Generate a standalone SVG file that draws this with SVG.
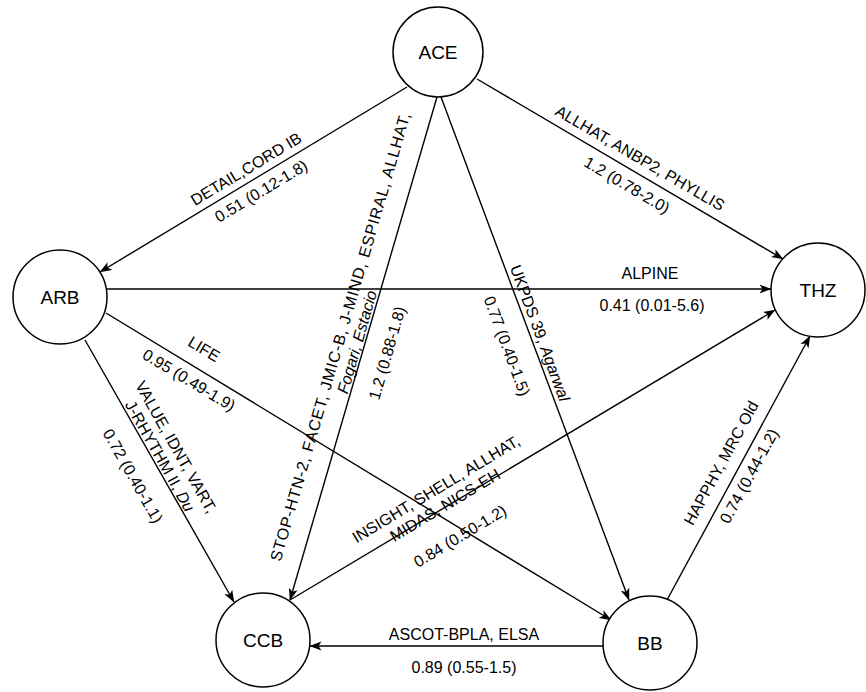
<svg xmlns="http://www.w3.org/2000/svg" width="866" height="692" viewBox="0 0 866 692">
<defs>
<marker id="arr" viewBox="0 0 12 10" refX="11.5" refY="5" markerWidth="12" markerHeight="10" markerUnits="userSpaceOnUse" orient="auto">
<path d="M0,0.5 L12,5 L0,9.5 L3,5 Z" fill="#000"/>
</marker>
<style>
.node circle{fill:#fff;stroke:#000;stroke-width:1.5}
.node text{font-family:"Liberation Sans",Arial,sans-serif;font-size:19px;text-anchor:middle;fill:#000}
.edges path{fill:none;stroke:#000;stroke-width:1.4;marker-end:url(#arr)}
.lbl text{font-family:"Liberation Sans",Arial,sans-serif;font-size:16px;text-anchor:middle;fill:#000}
.it{font-style:italic}
</style>
</defs>
<rect width="866" height="692" fill="#fff"/>
<g class="edges" id="connectors">
<path d="M407,87 L100,272"/>
<path d="M477,79 L783,259"/>
<path d="M437,97 L290,600"/>
<path d="M441,97 L629,600"/>
<path d="M107,289 L771,289"/>
<path d="M106,313 L611,620"/>
<path d="M85,340 L234,602"/>
<path d="M290,600 L775,310"/>
<path d="M667,600 L810,336"/>
<path d="M603,646 L310,646"/>
</g>
<g class="lbl" id="labels">
<text transform="translate(246,169) rotate(-31.1)" dy="0.35em">DETAIL,CORD IB</text>
<text transform="translate(261,191) rotate(-31.1)" dy="0.35em">0.51 (0.12-1.8)</text>
<text transform="translate(640,158) rotate(30.3)" dy="0.35em">ALLHAT, ANBP2, PHYLLIS</text>
<text transform="translate(627,185) rotate(30.3)" dy="0.35em">1.2 (0.78-2.0)</text>
<text transform="translate(340,337) rotate(-73.8)" dy="0.35em" textLength="466" lengthAdjust="spacing">STOP-HTN-2, FACET, JMIC-B, J-MIND, ESPIRAL, ALLHAT,</text>
<text transform="translate(357,342) rotate(-73.8)" dy="0.35em" class="it">Fogari, Estacio</text>
<text transform="translate(387,353) rotate(-73.8)" dy="0.35em">1.2 (0.88-1.8)</text>
<text transform="translate(540,333) rotate(69.6)" dy="0.35em">UKPDS 39, <tspan class="it">Agarwal</tspan></text>
<text transform="translate(507,346) rotate(69.6)" dy="0.35em">0.77 (0.40-1.5)</text>
<text x="650" y="273" dy="0.35em">ALPINE</text>
<text x="652" y="305" dy="0.35em">0.41 (0.01-5.6)</text>
<text transform="translate(204,349) rotate(31)" dy="0.35em">LIFE</text>
<text transform="translate(189,380) rotate(31)" dy="0.35em">0.95 (0.49-1.9)</text>
<text transform="translate(176,447) rotate(60.6)" dy="0.35em">VALUE, IDNT, VART,</text>
<text transform="translate(160,456) rotate(60.6)" dy="0.35em">J-RHYTHM II, <tspan class="it">Du</tspan></text>
<text transform="translate(133,476) rotate(60.6)" dy="0.35em">0.72 (0.40-1.1)</text>
<text transform="translate(436,489) rotate(-31.1)" dy="0.35em">INSIGHT, SHELL, ALLHAT,</text>
<text transform="translate(445,505) rotate(-31.1)" dy="0.35em">MIDAS, NICS-EH</text>
<text transform="translate(460,536) rotate(-31.1)" dy="0.35em">0.84 (0.50-1.2)</text>
<text transform="translate(721,463) rotate(-61.4)" dy="0.35em">HAPPHY, MRC Old</text>
<text transform="translate(749,476) rotate(-61.4)" dy="0.35em">0.74 (0.44-1.2)</text>
<text x="464" y="634" dy="0.35em">ASCOT-BPLA, ELSA</text>
<text x="464" y="667" dy="0.35em">0.89 (0.55-1.5)</text>
</g>
<g class="node" id="node-ACE"><circle cx="438" cy="52" r="45"/><text x="438" y="59">ACE</text></g>
<g class="node" id="node-ARB"><circle cx="60" cy="297" r="47"/><text x="60" y="304">ARB</text></g>
<g class="node" id="node-THZ"><circle cx="818" cy="290" r="47"/><text x="818" y="297">THZ</text></g>
<g class="node" id="node-CCB"><circle cx="263" cy="640" r="47"/><text x="263" y="647">CCB</text></g>
<g class="node" id="node-BB"><circle cx="650" cy="643" r="47"/><text x="650" y="650">BB</text></g>
</svg>
